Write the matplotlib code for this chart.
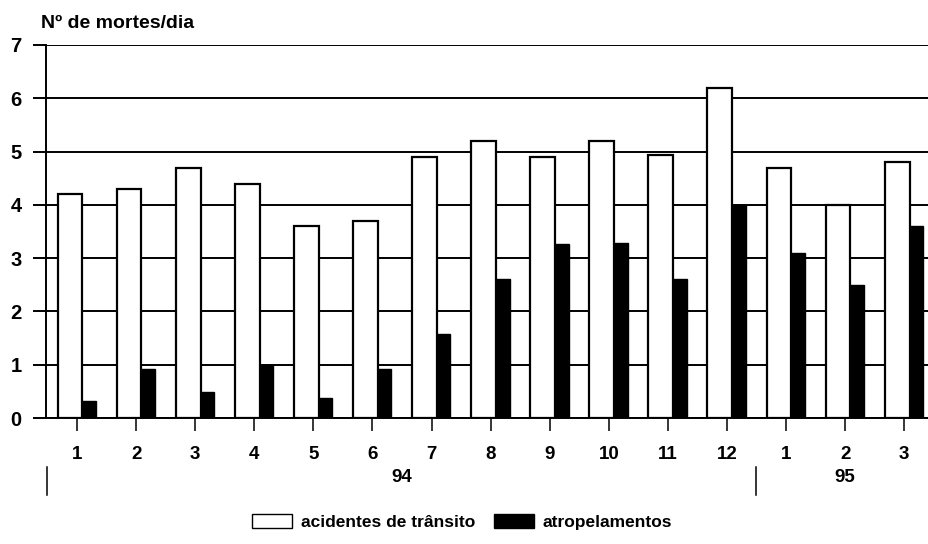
import matplotlib
matplotlib.use("Agg")
import matplotlib.pyplot as plt
import matplotlib.transforms as mtransforms
from matplotlib.patches import Patch
from matplotlib.lines import Line2D
import numpy as np

plt.rcParams['font.family'] = ['Liberation Sans', 'DejaVu Sans']
plt.rcParams['font.weight'] = 'bold'

months = ["1", "2", "3", "4", "5", "6", "7", "8", "9", "10", "11", "12", "1", "2", "3"]
years = ["94", "95"]
year_spans = [(-0.5, 11.5), (11.5, 14.5)]
acidentes = [4.2, 4.3, 4.7, 4.4, 3.6, 3.7, 4.9, 5.2, 4.9, 5.2, 4.93, 6.2, 4.7, 4.0, 4.8]
atropelamentos = [0.32, 0.92, 0.49, 1.0, 0.38, 0.92, 1.58, 2.6, 3.27, 3.28, 2.6, 4.0, 3.1, 2.5, 3.6]
yticks = [0, 1, 2, 3, 4, 5, 6, 7]
ylabel = "Nº de mortes/dia"
legend_labels = ["acidentes de trânsito", "atropelamentos"]

W, H = 929, 544
fig = plt.figure(figsize=(W / 100, H / 100), dpi=100)
ax = fig.add_axes([46 / W, 1 - 418 / H, 1 - 46 / W, (418 - 45) / H])

x = np.arange(len(months))
w1, w2 = 0.42, 0.23
ax.bar(x - 0.33, acidentes, width=w1, align='edge', color='white',
       edgecolor='black', linewidth=1.6, zorder=3)
ax.bar(x + 0.09, atropelamentos, width=w2, align='edge', color='black',
       edgecolor='black', linewidth=1.0, zorder=3)

ax.set_xlim(-0.525, 14.42)
ax.set_ylim(0, 7)
ax.set_yticks(yticks)
ax.set_yticklabels([str(v) for v in yticks], fontsize=14.5, fontweight='bold')
ax.set_xticks(x)
ax.set_xticklabels(months, fontsize=13.5, fontweight='bold')

ax.yaxis.grid(True, color='black', linewidth=1.4, zorder=1)
ax.set_axisbelow(True)
for s in ['top', 'right']:
    ax.spines[s].set_visible(False)
ax.spines['left'].set_linewidth(1.4)
ax.spines['bottom'].set_linewidth(1.4)
ax.spines['left'].set_zorder(4)
ax.spines['bottom'].set_zorder(4)
ax.tick_params(axis='y', length=9.4, width=1.4, pad=8, direction='out')
ax.tick_params(axis='x', length=9.4, width=1.1, pad=11, direction='out')

# year labels and separators
trans = mtransforms.blended_transform_factory(ax.transData, fig.transFigure)
for yr, (a, b) in zip(years, year_spans):
    ax.text((a + b) / 2, 1 - 478 / H, yr, transform=trans, ha='center',
            va='center', fontsize=13.5, fontweight='bold')
for xs in [year_spans[0][0], year_spans[0][1]]:
    ax.add_line(Line2D([xs, xs], [1 - 467 / H, 1 - 495 / H], transform=trans,
                       color='black', linewidth=1.1, clip_on=False))

fig.text(41 / W, 1 - 23 / H, ylabel, ha='left', va='center', fontsize=14,
         fontweight='bold')

handles = [Patch(facecolor='white', edgecolor='black', linewidth=1.0),
           Patch(facecolor='black', edgecolor='black')]
fig.legend(handles, legend_labels, loc='center', bbox_to_anchor=(462 / W, 1 - 522 / H),
           ncol=2, frameon=False, prop={'size': 12.5, 'weight': 'bold'},
           handlelength=2.3, handleheight=0.9,
           handletextpad=0.5, columnspacing=1.1)

fig.savefig("out.png", dpi=100)
